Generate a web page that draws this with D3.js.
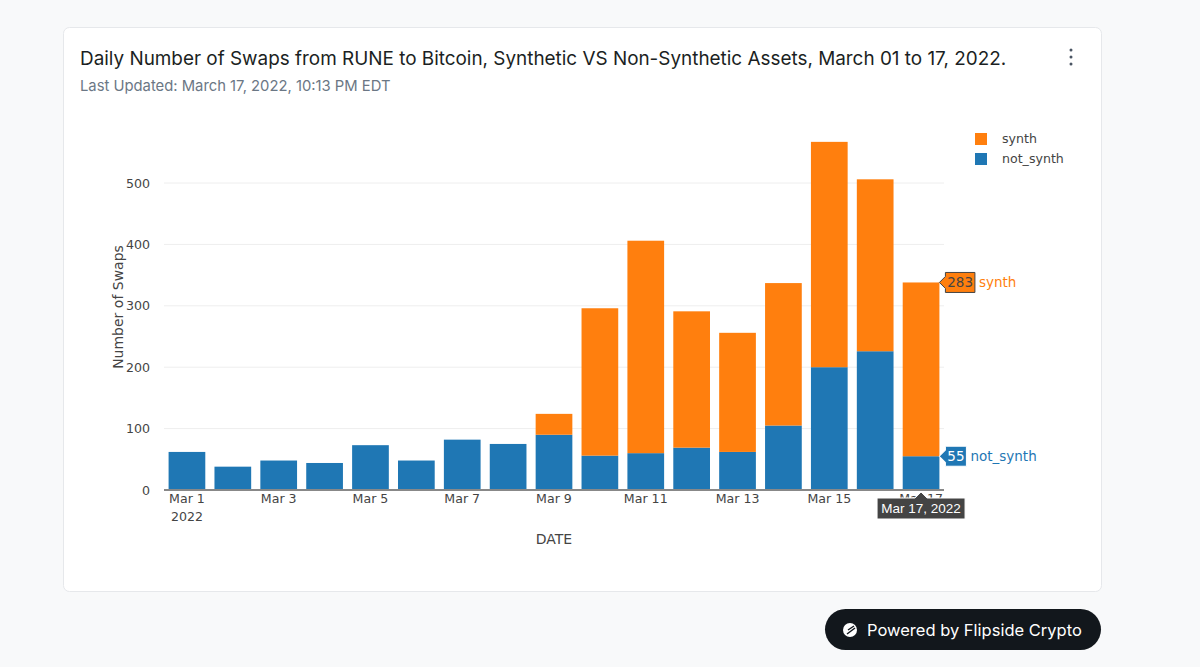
<!DOCTYPE html>
<html>
<head>
<meta charset="utf-8">
<script src="https://cdn.jsdelivr.net/npm/d3@7"></script>
<style>
  body { margin: 0; background: #f8f9fa; }
  svg { display: block; }
</style>
</head>
<body>
<div id="chart"></div>
<script>
// data
const dates = ["2022-03-01", "2022-03-02", "2022-03-03", "2022-03-04", "2022-03-05", "2022-03-06",
  "2022-03-07", "2022-03-08", "2022-03-09", "2022-03-10", "2022-03-11", "2022-03-12",
  "2022-03-13", "2022-03-14", "2022-03-15", "2022-03-16", "2022-03-17"];
const notSynth = [62, 38, 48, 44, 73, 48, 82, 75, 90, 56, 60, 69, 62, 105, 200, 226, 55];
const synth = [0, 0, 0, 0, 0, 0, 0, 0, 34, 240, 346, 222, 194, 232, 367, 280, 283];
const yTicks = [0, 100, 200, 300, 400, 500];
const seriesNames = ["synth", "not_synth"];
const colors = { synth: "#ff7f0e", not_synth: "#1f77b4" };

const W = 1200, H = 667;
const plotFont = "Verdana, 'DejaVu Sans', sans-serif";
const uiFont = "Inter, 'Noto Sans', sans-serif";
const fs = 12.6;

const svg = d3.select('#chart').append('svg')
  .attr('width', W)
  .attr('height', H);

// card
svg.append('rect')
  .attr('x', 63.5).attr('y', 27.5)
  .attr('width', 1038).attr('height', 564)
  .attr('rx', 6)
  .attr('fill', '#fff')
  .attr('stroke', '#e6e8eb');

svg.append('text')
  .attr('x', 80).attr('y', 65)
  .attr('font-family', uiFont)
  .attr('font-size', 18.9)
  .attr('fill', '#1b1f23')
  .text('Daily Number of Swaps from RUNE to Bitcoin, Synthetic VS Non-Synthetic Assets, March 01 to 17, 2022.');

svg.append('text')
  .attr('x', 80).attr('y', 91)
  .attr('font-family', uiFont)
  .attr('font-size', 14.8)
  .attr('fill', '#6b7785')
  .text('Last Updated: March 17, 2022, 10:13 PM EDT');

// kebab menu
svg.selectAll('circle.kebab').data([50, 57, 64]).enter()
  .append('circle')
  .attr('class', 'kebab')
  .attr('cx', 1071).attr('cy', d => d)
  .attr('r', 1.5)
  .attr('fill', '#4a5563');

// scales
const parse = d3.timeParse('%Y-%m-%d');
const x = d3.scaleBand()
  .domain(dates)
  .range([164, 944])
  .paddingInner(0.2)
  .paddingOuter(0.1);

const y = d3.scaleLinear()
  .domain([0, 500])
  .range([490, 183]);

const g = svg.append('g');

// grid
g.selectAll('line.grid').data(yTicks.filter(d => d > 0)).enter()
  .append('line')
  .attr('x1', 164).attr('x2', 944)
  .attr('y1', d => y(d)).attr('y2', d => y(d))
  .attr('stroke', '#eeeeee');

// y axis labels
const yAxis = d3.axisLeft(y).tickValues(yTicks).tickSize(0).tickPadding(0);
const ya = g.append('g').attr('transform', 'translate(150,0)').call(yAxis);
ya.select('.domain').remove();
ya.selectAll('text')
  .attr('font-family', plotFont)
  .attr('font-size', fs)
  .attr('fill', '#444');

// stacked bars
const rows = dates.map((d, i) => ({ date: d, not_synth: notSynth[i], synth: synth[i] }));
const stack = d3.stack().keys(["not_synth", "synth"])(rows);

g.selectAll('g.layer').data(stack).enter()
  .append('g')
  .attr('class', 'layer')
  .attr('fill', d => colors[d.key])
  .selectAll('rect').data(d => d).enter()
  .append('rect')
  .attr('x', d => x(d.data.date))
  .attr('width', x.bandwidth())
  .attr('y', d => y(d[1]))
  .attr('height', d => y(d[0]) - y(d[1]));

// zero line
g.append('line')
  .attr('x1', 164).attr('x2', 944)
  .attr('y1', y(0)).attr('y2', y(0))
  .attr('stroke', '#888')
  .attr('stroke-width', 2);

// x axis labels (every 2 days)
const fmt = d3.timeFormat('%b %-d');
const xa = g.append('g');
dates.filter((d, i) => i % 2 === 0).forEach(d => {
  xa.append('text')
    .attr('x', x(d) + x.bandwidth() / 2)
    .attr('y', 503)
    .attr('text-anchor', 'middle')
    .attr('font-family', plotFont)
    .attr('font-size', fs)
    .attr('fill', '#444')
    .text(fmt(parse(d)));
});
xa.append('text')
  .attr('x', x(dates[0]) + x.bandwidth() / 2)
  .attr('y', 521)
  .attr('text-anchor', 'middle')
  .attr('font-family', plotFont)
  .attr('font-size', fs)
  .attr('fill', '#444')
  .text('2022');

// axis titles
svg.append('text')
  .attr('x', 554).attr('y', 544)
  .attr('text-anchor', 'middle')
  .attr('font-family', plotFont)
  .attr('font-size', 14)
  .attr('fill', '#444')
  .text('DATE');

svg.append('text')
  .attr('transform', 'translate(123,307) rotate(-90)')
  .attr('text-anchor', 'middle')
  .attr('font-family', plotFont)
  .attr('font-size', 14)
  .attr('fill', '#444')
  .text('Number of Swaps');

// legend
const leg = svg.append('g').attr('transform', 'translate(975,133)');
seriesNames.forEach((name, i) => {
  leg.append('rect')
    .attr('x', 0).attr('y', i * 20)
    .attr('width', 12).attr('height', 12)
    .attr('fill', colors[name]);
  leg.append('text')
    .attr('x', 27).attr('y', i * 20 + 10)
    .attr('font-family', plotFont)
    .attr('font-size', fs)
    .attr('fill', '#444')
    .text(name);
});

// hover labels for last bar
const last = dates.length - 1;
const hx = x(dates[last]) + x.bandwidth();
function hoverLabel(val, yy, fill, txtColor, name) {
  const hg = svg.append('g').attr('transform', `translate(${hx},${yy})`);
  const boxW = String(val).length * 8.5 + 4;
  hg.append('path')
    .attr('d', `M0,0 L6,-6 L6,-10 L${6 + boxW},-10 L${6 + boxW},10 L6,10 L6,6 Z`)
    .attr('fill', fill)
    .attr('stroke', txtColor === '#fff' ? '#fff' : '#444')
    .attr('stroke-width', 1);
  hg.append('text')
    .attr('x', 6 + boxW / 2).attr('y', 5)
    .attr('text-anchor', 'middle')
    .attr('font-family', plotFont)
    .attr('font-size', 13.5)
    .attr('fill', txtColor)
    .text(val);
  hg.append('text')
    .attr('x', 10 + boxW).attr('y', 5)
    .attr('font-family', plotFont)
    .attr('font-size', 13.5)
    .attr('fill', fill)
    .text(name);
}
hoverLabel(synth[last], y(synth[last] + notSynth[last]), colors.synth, '#444', 'synth');
hoverLabel(notSynth[last], y(notSynth[last]), colors.not_synth, '#fff', 'not_synth');

// date tooltip
const cx = x(dates[last]) + x.bandwidth() / 2;
const tg = svg.append('g').attr('transform', `translate(${cx},492)`);
tg.append('path')
  .attr('d', 'M0,0 L6,6 L44,6 L44,27 L-44,27 L-44,6 L-6,6 Z')
  .attr('fill', '#444')
  .attr('stroke', '#fff');
tg.append('text')
  .attr('x', 0).attr('y', 21)
  .attr('text-anchor', 'middle')
  .attr('font-family', "'Liberation Sans', Arial, sans-serif")
  .attr('font-size', 13.5)
  .attr('fill', '#fff')
  .text(d3.timeFormat('%b %-d, %Y')(parse(dates[last])));

// powered by button
const btn = svg.append('g').attr('transform', 'translate(825,609)');
btn.append('rect')
  .attr('width', 276).attr('height', 41)
  .attr('rx', 20.5)
  .attr('fill', '#12171c');
btn.append('circle')
  .attr('cx', 25).attr('cy', 21).attr('r', 7)
  .attr('fill', '#fff');
btn.append('path')
  .attr('d', 'M22,25 L30,19 M23,21 L29,17')
  .attr('stroke', '#12171c')
  .attr('stroke-width', 1.5);
btn.append('text')
  .attr('x', 42).attr('y', 27)
  .attr('font-family', uiFont)
  .attr('font-size', 16.5)
  .attr('fill', '#fff')
  .text('Powered by Flipside Crypto');
</script>
</body>
</html>
